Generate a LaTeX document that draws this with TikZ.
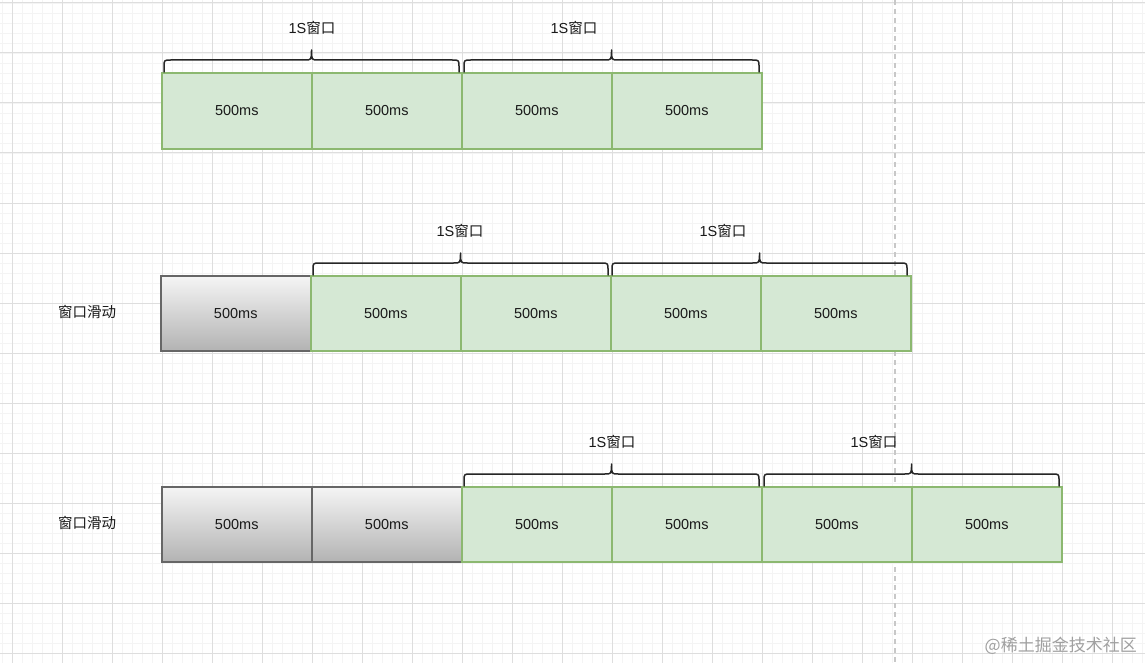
\documentclass[tikz,border=0pt]{standalone}
\usepackage{fontspec}
\setmainfont{Liberation Sans}
\newfontfamily\cjk{Noto Sans CJK SC}
\definecolor{gfill}{RGB}{213,232,212}
\definecolor{gline}{RGB}{140,184,112}
\definecolor{gytop}{RGB}{245,245,245}
\definecolor{gybot}{RGB}{179,179,179}
\definecolor{gyline}{RGB}{102,102,102}
\definecolor{gridmaj}{RGB}{222,222,222}
\definecolor{gridmin}{RGB}{244,244,244}
\definecolor{dashc}{RGB}{200,200,200}
\definecolor{wmark}{RGB}{160,160,160}
\newcommand{\wbrace}[3]{%
  \pgfmathsetmacro{\xm}{(#1+#2)/2}%
  \pgfmathsetmacro{\yh}{#3-12}%
  \pgfmathsetmacro{\yt}{#3-22}%
  \draw[bracestyle] (#1,#3) -- (#1,\yh+7) .. controls (#1,\yh) .. (#1+7,\yh)
    -- (\xm-7,\yh) .. controls (\xm,\yh) .. (\xm,\yt)
    .. controls (\xm,\yh) .. (\xm+7,\yh) -- (#2-7,\yh)
    .. controls (#2,\yh) .. (#2,\yh+7) -- (#2,#3);}
\begin{document}
\begin{tikzpicture}[x=1pt,y=-1pt,
  every node/.style={font=\fontsize{14.5}{16}\selectfont, text=black!90},
  greenbox/.style={draw=gline, fill=gfill, line width=1.6pt, minimum width=150pt, inner sep=0pt, anchor=north west},
  graybox/.style={draw=gyline, top color=gytop, bottom color=gybot, line width=1.5pt, minimum width=150pt, inner sep=0pt, anchor=north west},
  bracestyle/.style={draw=black!85, line width=1.5pt, line cap=round, line join=round},
  lbl/.style={inner sep=0pt}]
\useasboundingbox (0,0) rectangle (1145,663);
\fill[white] (0,0) rectangle (1145,663);
% grid
\foreach \x in {2,12,...,1142} \draw[gridmin, line width=0.8pt] (\x,0) -- (\x,663);
\foreach \y in {3,13,...,663} \draw[gridmin, line width=0.8pt] (0,\y) -- (1145,\y);
\foreach \x in {12,62,...,1145} \draw[gridmaj, line width=1pt] (\x,0) -- (\x,663);
\foreach \y in {3,53,...,663} \draw[gridmaj, line width=1pt] (0,\y) -- (1145,\y);
% dashed guide
\coordinate (dtop) at (895,0);
\coordinate (dbot) at (895,663);
\draw[dashc, line width=1.3pt, dash pattern=on 5pt off 4pt] (dtop) -- (dbot);
% row 1
\node[greenbox, minimum height=76pt] (a1) at (161,72) {500ms};
\node[greenbox, minimum height=76pt] (a2) at (311,72) {500ms};
\node[greenbox, minimum height=76pt] (a3) at (461,72) {500ms};
\node[greenbox, minimum height=76pt] (a4) at (611,72) {500ms};
\wbrace{164}{459}{72}
\wbrace{464}{759}{72}
\node[lbl] (la1) at (312,28) {1S{\cjk 窗口}};
\node[lbl] (la2) at (574,28) {1S{\cjk 窗口}};
% row 2
\node[lbl] (s2) at (87,312) {\cjk 窗口滑动};
\node[graybox, minimum height=75pt] (b0) at (160,275) {500ms};
\node[greenbox, minimum height=75pt] (b1) at (310,275) {500ms};
\node[greenbox, minimum height=75pt] (b2) at (460,275) {500ms};
\node[greenbox, minimum height=75pt] (b3) at (610,275) {500ms};
\node[greenbox, minimum height=75pt] (b4) at (760,275) {500ms};
\wbrace{313}{608}{275}
\wbrace{612}{907}{275}
\node[lbl] (lb1) at (460,231) {1S{\cjk 窗口}};
\node[lbl] (lb2) at (723,231) {1S{\cjk 窗口}};
% row 3
\node[lbl] (s3) at (87,523) {\cjk 窗口滑动};
\node[graybox, minimum height=75pt] (c0) at (161,486) {500ms};
\node[graybox, minimum height=75pt] (c1) at (311,486) {500ms};
\node[greenbox, minimum height=75pt] (c2) at (461,486) {500ms};
\node[greenbox, minimum height=75pt] (c3) at (611,486) {500ms};
\node[greenbox, minimum height=75pt] (c4) at (761,486) {500ms};
\node[greenbox, minimum height=75pt] (c5) at (911,486) {500ms};
\wbrace{464}{759}{486}
\wbrace{764}{1059}{486}
\node[lbl] (lc1) at (612,442) {1S{\cjk 窗口}};
\node[lbl] (lc2) at (874,442) {1S{\cjk 窗口}};
% watermark
\node[lbl, anchor=east, text=wmark, font=\fontsize{17}{19}\selectfont] (wm) at (1137,646) {\cjk @稀土掘金技术社区};
\end{tikzpicture}
\end{document}
